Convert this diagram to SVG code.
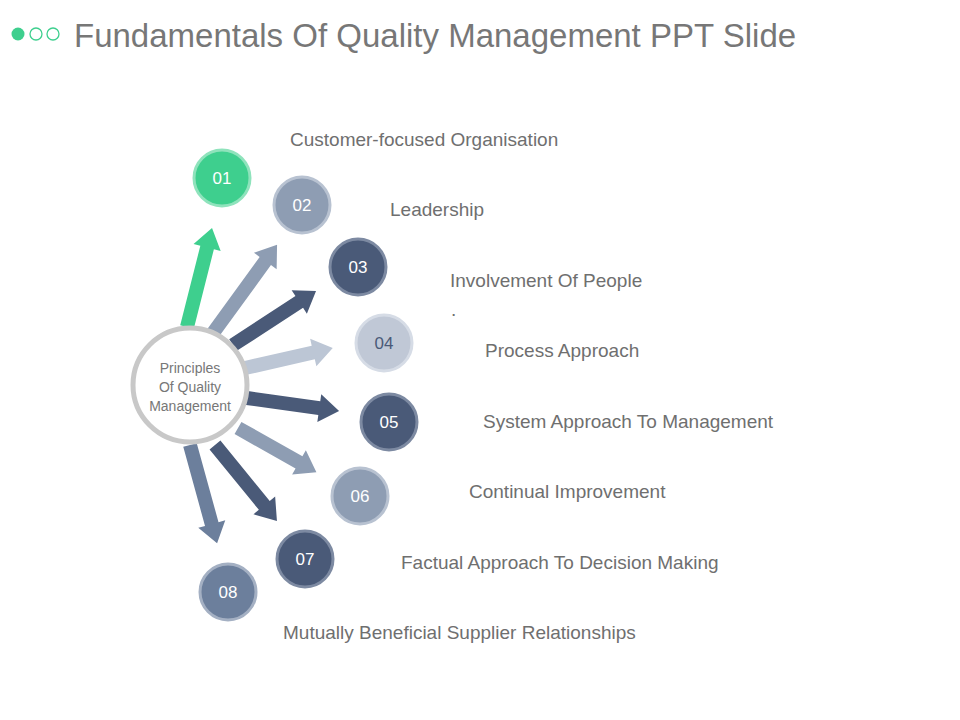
<svg xmlns="http://www.w3.org/2000/svg" width="960" height="720" viewBox="0 0 960 720">
<style>
text{font-family:"Liberation Sans",Arial,sans-serif}
.t{fill:#6f6f6f;font-size:19px}
.n{fill:#fff;font-size:17px;text-anchor:middle}
.c{stroke-width:3}
</style>
<defs>
<polygon id="ar" points="0,-7 -20,-7 -20,-14 0,0 -20,14 -20,7"/>
</defs>
<rect width="960" height="720" fill="#fff"/>
<g id="title">
<circle cx="18" cy="34" r="6.5" fill="#3ecf8e"/>
<circle cx="36" cy="34" r="6" fill="none" stroke="#3ecf8e" stroke-width="1.3"/>
<circle cx="53" cy="34" r="6" fill="none" stroke="#3ecf8e" stroke-width="1.3"/>
<text x="74" y="47" font-size="33" fill="#777">Fundamentals Of Quality Management PPT Slide</text>
</g>
<g id="connectors">
<g transform="translate(187,327) rotate(-75.8)" fill="#3ecf8e"><polygon points="0,-7 82,-7 82,-14 102,0 82,14 82,7 0,7"/></g>
<g transform="translate(213,333) rotate(-54)" fill="#8e9db3"><polygon points="0,-7 89,-7 89,-14 109,0 89,14 89,7 0,7"/></g>
<g transform="translate(233,345) rotate(-33)" fill="#4a5a78"><polygon points="0,-7 79,-7 79,-14 99,0 79,14 79,7 0,7"/></g>
<g transform="translate(245,368) rotate(-12.8)" fill="#bcc6d5"><polygon points="0,-7 70,-7 70,-14 90,0 70,14 70,7 0,7"/></g>
<g transform="translate(247,398) rotate(8)" fill="#4a5a78"><polygon points="0,-7 73,-7 73,-14 93,0 73,14 73,7 0,7"/></g>
<g transform="translate(238,428) rotate(29.4)" fill="#8e9db3"><polygon points="0,-7 70,-7 70,-14 90,0 70,14 70,7 0,7"/></g>
<g transform="translate(215,445) rotate(50.8)" fill="#4a5a78"><polygon points="0,-7 78,-7 78,-14 98,0 78,14 78,7 0,7"/></g>
<g transform="translate(190,445) rotate(74.6)" fill="#6c7f9c"><polygon points="0,-7 82,-7 82,-14 102,0 82,14 82,7 0,7"/></g>
</g>
<g id="center">
<circle cx="190" cy="385" r="57" fill="#fff" stroke="#c8c8c8" stroke-width="5"/>
<text x="190" y="373" font-size="14" fill="#777" text-anchor="middle">Principles</text>
<text x="190" y="392" font-size="14" fill="#777" text-anchor="middle">Of Quality</text>
<text x="190" y="411" font-size="14" fill="#777" text-anchor="middle">Management</text>
</g>
<g id="n01"><circle class="c" cx="222" cy="178" r="28" fill="#3ecf8e" stroke="#8fe3bc"/><text class="n" x="222" y="184">01</text><text class="t" x="290" y="146">Customer-focused Organisation</text></g>
<g id="n02"><circle class="c" cx="302" cy="205" r="28" fill="#8e9db3" stroke="#b8c2d1"/><text class="n" x="302" y="211">02</text><text class="t" x="390" y="216">Leadership</text></g>
<g id="n03"><circle class="c" cx="358" cy="267" r="28" fill="#4a5a78" stroke="#7d8aa2"/><text class="n" x="358" y="273">03</text><text class="t" x="450" y="287">Involvement Of People</text><text class="t" x="451" y="316" font-size="12">.</text></g>
<g id="n04"><circle class="c" cx="384" cy="343" r="28" fill="#c0c8d6" stroke="#d6dce6"/><text class="n" x="384" y="349" fill="#4a5a78" style="fill:#4a5a78">04</text><text class="t" x="485" y="357">Process Approach</text></g>
<g id="n05"><circle class="c" cx="389" cy="422" r="28" fill="#4a5a78" stroke="#7d8aa2"/><text class="n" x="389" y="428">05</text><text class="t" x="483" y="428">System Approach To Management</text></g>
<g id="n06"><circle class="c" cx="360" cy="496" r="28" fill="#8e9db3" stroke="#b8c2d1"/><text class="n" x="360" y="502">06</text><text class="t" x="469" y="498">Continual Improvement</text></g>
<g id="n07"><circle class="c" cx="305" cy="559" r="28" fill="#4a5a78" stroke="#7d8aa2"/><text class="n" x="305" y="565">07</text><text class="t" x="401" y="569">Factual Approach To Decision Making</text></g>
<g id="n08"><circle class="c" cx="228" cy="592" r="28" fill="#6c7f9c" stroke="#a4b0c3"/><text class="n" x="228" y="598">08</text><text class="t" x="283" y="639">Mutually Beneficial Supplier Relationships</text></g>
</svg>
